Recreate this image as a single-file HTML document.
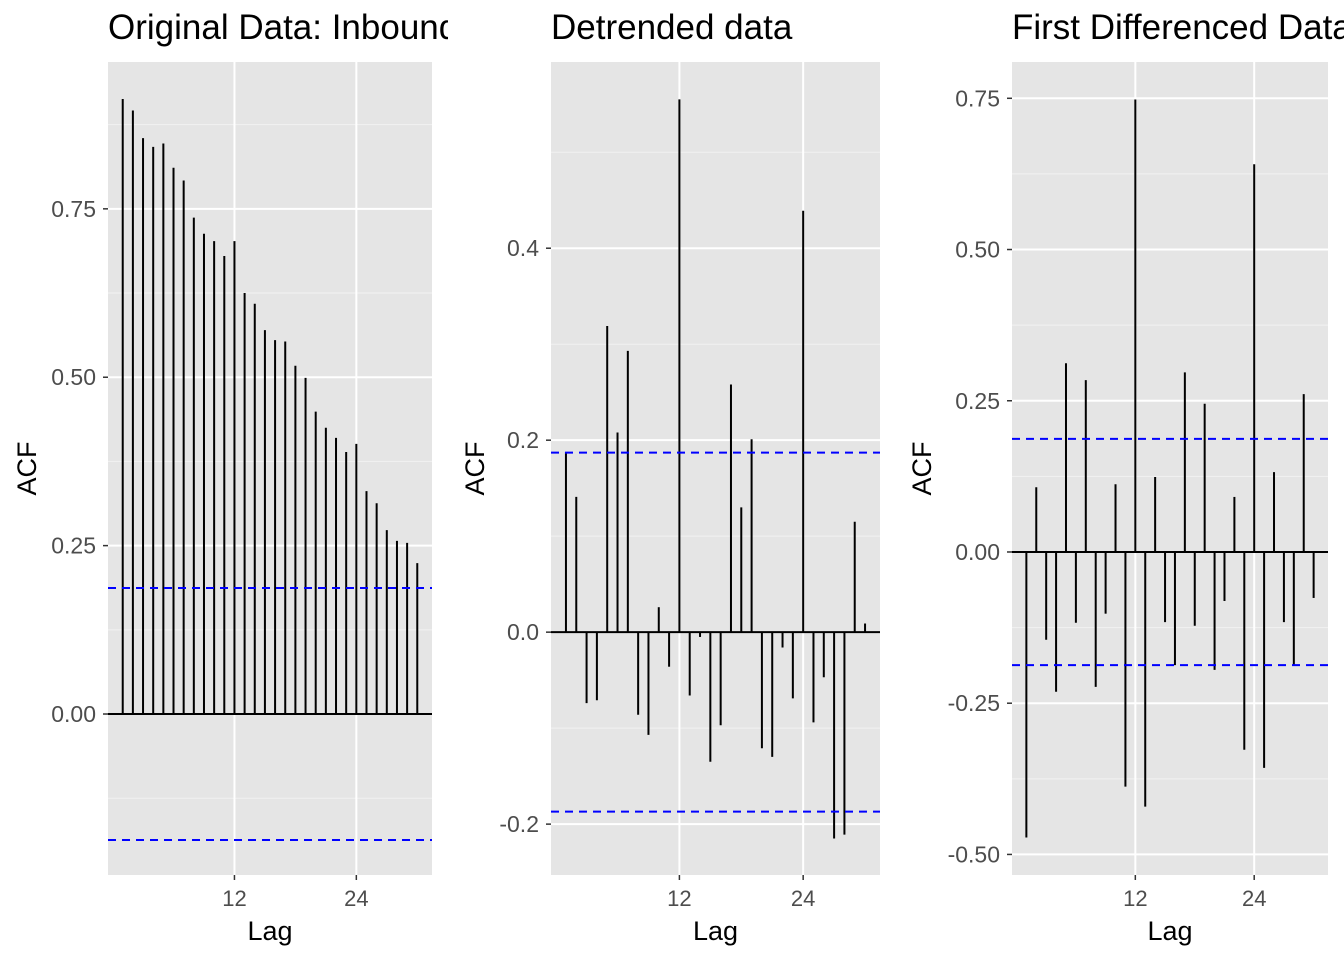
<!DOCTYPE html>
<html><head><meta charset="utf-8"><style>
html,body{margin:0;padding:0;background:#fff;width:1344px;height:960px;overflow:hidden}
svg{display:block;font-family:"Liberation Sans",Arial,sans-serif}
</style></head><body>
<svg id="chart" width="1344" height="960"></svg>
<script>
const lags = Array.from({length:30},(_,i)=>i+1);
const acfOriginal = [0.913,0.896,0.855,0.842,0.847,0.811,0.792,0.737,0.713,0.702,0.680,0.702,0.625,0.609,0.570,0.555,0.553,0.517,0.499,0.449,0.425,0.410,0.389,0.401,0.331,0.313,0.273,0.257,0.254,0.224];
const acfDetrended = [0.1875,0.141,-0.074,-0.071,0.319,0.208,0.293,-0.086,-0.107,0.026,-0.036,0.555,-0.066,-0.005,-0.135,-0.097,0.258,0.130,0.201,-0.121,-0.130,-0.016,-0.069,0.439,-0.094,-0.047,-0.215,-0.211,0.115,0.009];
const acfDiff = [-0.472,0.107,-0.145,-0.231,0.312,-0.117,0.284,-0.223,-0.102,0.112,-0.388,0.748,-0.421,0.124,-0.116,-0.187,0.297,-0.122,0.245,-0.195,-0.081,0.091,-0.327,0.641,-0.357,0.132,-0.116,-0.188,0.261,-0.076];
const ciLimit = 0.187;
const xTicks = [12,24];
const yTicks1 = [0,0.25,0.5,0.75], yLabels1 = ["0.00","0.25","0.50","0.75"];
const yTicks2 = [-0.2,0,0.2,0.4], yLabels2 = ["-0.2","0.0","0.2","0.4"];
const yTicks3 = [-0.5,-0.25,0,0.25,0.5,0.75], yLabels3 = ["-0.50","-0.25","0.00","0.25","0.50","0.75"];
const titles = ["Original Data: Inbound","Detrended data","First Differenced Data"];

const NS="http://www.w3.org/2000/svg";
const svg=document.getElementById('chart');
function mk(tag,attrs,parent){const e=document.createElementNS(NS,tag);for(const k in attrs)e.setAttribute(k,attrs[k]);(parent||svg).appendChild(e);return e;}

const panels=[
 {x0:108,x1:432,ymin:-0.239,ymax:0.968,vals:acfOriginal,ticks:yTicks1,labels:yLabels1,clipL:0,clipR:448,ax:27},
 {x0:551,x1:880,ymin:-0.253,ymax:0.594,vals:acfDetrended,ticks:yTicks2,labels:yLabels2,clipL:448,clipR:898,ax:475},
 {x0:1012,x1:1328,ymin:-0.534,ymax:0.81,vals:acfDiff,ticks:yTicks3,labels:yLabels3,clipL:898,clipR:1344,ax:922}
];
const Y0=62,Y1=875;
panels.forEach((p,pi)=>{
 const g=mk('g',{});
 
 
 const xs=l=>p.x0+(l+0.45)/31.9*(p.x1-p.x0);
 const ys=v=>Y1-(v-p.ymin)/(p.ymax-p.ymin)*(Y1-Y0);
 const bg=mk('rect',{x:p.x0,y:Y0,width:p.x1-p.x0,height:Y1-Y0,fill:'#e5e5e5'},g);
 
 
 for(let i=0;i<p.ticks.length+1;i++){
  const step=p.ticks[1]-p.ticks[0];
  const v=p.ticks[0]-step/2+i*step;
  if(v>p.ymin&&v<p.ymax) mk('line',{x1:p.x0,x2:p.x1,y1:ys(v),y2:ys(v),stroke:'#f2f2f2','stroke-width':1},g);
 }
 p.ticks.forEach((v,i)=>{
  mk('line',{x1:p.x0,x2:p.x1,y1:ys(v),y2:ys(v),stroke:'#fff','stroke-width':2},g);
  mk('line',{x1:p.x0-5,x2:p.x0,y1:ys(v),y2:ys(v),stroke:'#333','stroke-width':1.5},g);
  const t=mk('text',{x:p.x0-12,y:ys(v)+8,'text-anchor':'end','font-size':23,fill:'#4d4d4d'},g);
  t.textContent=p.labels[i];
  
  
 });
 xTicks.forEach(l=>{
  mk('line',{x1:xs(l),x2:xs(l),y1:Y0,y2:Y1,stroke:'#fff','stroke-width':2},g);
  mk('line',{x1:xs(l),x2:xs(l),y1:Y1,y2:Y1+5,stroke:'#333','stroke-width':1.5},g);
  const t=mk('text',{x:xs(l),y:906,'text-anchor':'middle','font-size':22,fill:'#4d4d4d'},g);
  t.textContent=l;
  
  
 });
 mk('line',{x1:p.x0,x2:p.x1,y1:ys(0),y2:ys(0),stroke:'#000','stroke-width':2},g);
 lags.forEach((l,i)=>{
  const b=mk('line',{x1:xs(l),x2:xs(l),y1:ys(0),y2:ys(p.vals[i]),stroke:'#000','stroke-width':2},g);
  
  
 });
 [ciLimit,-ciLimit].forEach(v=>{
  const c=mk('line',{x1:p.x0,x2:p.x1,y1:ys(v),y2:ys(v),stroke:'#0000ff','stroke-width':2,'stroke-dasharray':'8,6'},g);
  
  
 });
 const xt=mk('text',{x:(p.x0+p.x1)/2,y:940,'text-anchor':'middle','font-size':27,fill:'#000'},g);
 xt.textContent='Lag';
 
 
 const yt=mk('text',{x:0,y:0,'text-anchor':'middle','font-size':27,fill:'#000',transform:`translate(${p.ax+9},${(Y0+Y1)/2}) rotate(-90)`},g);
 yt.textContent='ACF';
 
 
 const cp=mk('clipPath',{id:'clip'+pi},svg);
 mk('rect',{x:p.clipL,y:0,width:p.clipR-p.clipL,height:60},cp);
 const tt=mk('text',{x:p.x0,y:39,'font-size':35,fill:'#000','clip-path':`url(#clip${pi})`},g);
 tt.textContent=titles[pi];
 
 
});
</script>
</body></html>
